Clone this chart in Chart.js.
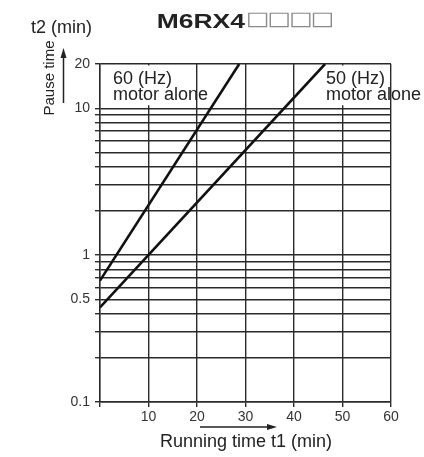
<!DOCTYPE html>
<html>
<head>
<meta charset="utf-8">
<script src="https://cdn.jsdelivr.net/npm/chart.js@4.4.1/dist/chart.umd.min.js"></script>
<style>
  html, body { margin: 0; padding: 0; background: #fff; }
  #wrap { width: 424px; height: 457px; }
</style>
</head>
<body>
<div id="wrap"><canvas id="pauseChart" width="424" height="457"></canvas></div>
<script>
// running time t1 (min) vs pause time t2 (min)
const runTime60 = [0, 28.7];
const pause60 = [0.67, 20];
const runTime50 = [0, 46.4];
const pause50 = [0.44, 20];

const xTickValues = [0, 10, 20, 30, 40, 50, 60];
const yGridValues = [0.1, 0.2, 0.3, 0.4, 0.5, 0.6, 0.7, 0.8, 0.9, 1, 2, 3, 4, 5, 6, 7, 8, 9, 10, 20];
const yLabelled = [0.1, 0.5, 1, 10, 20];
const gapColumns = [10, 50]; // grid columns left blank behind the curve labels

const FONT = '"Liberation Sans", Arial, sans-serif';
const INK = '#222';
const GRID = '#2a2a2a';

function toPoints(xs, ys) {
    return xs.map((x, i) => ({ x: x, y: ys[i] }));
}

function fitText(ctx, text, font, color, left, top, width, height) {
    ctx.save();
    ctx.font = font;
    ctx.fillStyle = color;
    ctx.textAlign = 'left';
    ctx.textBaseline = 'alphabetic';
    const m = ctx.measureText(text);
    const w = m.actualBoundingBoxLeft + m.actualBoundingBoxRight;
    const h = m.actualBoundingBoxAscent + m.actualBoundingBoxDescent;
    ctx.translate(left, top);
    ctx.scale(width / w, height / h);
    ctx.fillText(text, m.actualBoundingBoxLeft, m.actualBoundingBoxAscent);
    ctx.restore();
}

function arrow(ctx, x1, y1, x2, y2) {
    const a = Math.atan2(y2 - y1, x2 - x1);
    ctx.save();
    ctx.strokeStyle = INK;
    ctx.fillStyle = INK;
    ctx.lineWidth = 1.5;
    ctx.beginPath();
    ctx.moveTo(x1, y1);
    ctx.lineTo(x2 - 6 * Math.cos(a), y2 - 6 * Math.sin(a));
    ctx.stroke();
    ctx.translate(x2, y2);
    ctx.rotate(a);
    ctx.beginPath();
    ctx.moveTo(0, 0);
    ctx.lineTo(-10, -3);
    ctx.lineTo(-10, 3);
    ctx.closePath();
    ctx.fill();
    ctx.restore();
}

const gapPlugin = {
    id: 'gapPlugin',
    beforeDatasetsDraw(chart) {
        const { ctx, scales: { x, y } } = chart;
        const top = y.getPixelForValue(20) + 1.5;
        const bottom = y.getPixelForValue(10) - 3;
        ctx.save();
        ctx.fillStyle = '#fff';
        gapColumns.forEach(v => {
            const px = x.getPixelForValue(v);
            ctx.fillRect(px - 2, top, 4, bottom - top);
        });
        ctx.restore();
    }
};

const textPlugin = {
    id: 'textPlugin',
    afterDraw(chart) {
        const ctx = chart.ctx;
        const area = chart.chartArea;

        // title: model number with four blank placeholder boxes
        fitText(ctx, 'M6RX4', 'bold 20px ' + FONT, INK, 158, 13.5, 88, 14);
        for (let i = 0; i < 4; i++) {
            fitText(ctx, '\u25A1', '20px "DejaVu Sans"', '#8a8a8a', 247 + i * 21.6, 12, 21, 15.5);
        }

        ctx.save();
        ctx.fillStyle = INK;
        ctx.textAlign = 'left';
        ctx.textBaseline = 'alphabetic';

        // y axis title
        ctx.font = '18px ' + FONT;
        ctx.fillText('t2 (min)', 31, 33);

        ctx.save();
        ctx.font = '15px ' + FONT;
        ctx.textAlign = 'center';
        ctx.translate(53.5, 78);
        ctx.rotate(-Math.PI / 2);
        ctx.fillText('Pause time', 0, 0);
        ctx.restore();

        // x axis title
        ctx.font = '18px ' + FONT;
        ctx.fillText('Running time t1 (min)', 160, 447);

        // curve labels
        ctx.fillText('60 (Hz)', area.left + 13, 84);
        ctx.fillText('motor alone', area.left + 13, 100);
        ctx.fillText('50 (Hz)', 326, 84);
        ctx.fillText('motor alone', 326, 100);
        ctx.restore();

        arrow(ctx, 63.5, 103, 63.5, 48);
        arrow(ctx, 200, 427, 277, 427);
    }
};

const ctx = document.getElementById('pauseChart').getContext('2d');
new Chart(ctx, {
    type: 'line',
    data: {
        datasets: [
            {
                label: '60 (Hz) motor alone',
                data: toPoints(runTime60, pause60),
                borderColor: '#111',
                borderWidth: 2.6,
                pointRadius: 0,
                tension: 0,
                fill: false
            },
            {
                label: '50 (Hz) motor alone',
                data: toPoints(runTime50, pause50),
                borderColor: '#111',
                borderWidth: 2.6,
                pointRadius: 0,
                tension: 0,
                fill: false
            }
        ]
    },
    options: {
        responsive: false,
        animation: false,
        layout: { padding: { left: 0, right: 33, top: 64, bottom: 0 } },
        plugins: {
            legend: { display: false },
            tooltip: { enabled: false }
        },
        scales: {
            x: {
                type: 'linear',
                min: 0,
                max: 60,
                afterBuildTicks: scale => { scale.ticks = xTickValues.map(v => ({ value: v })); },
                afterFit: scale => { scale.height = 55; },
                ticks: {
                    autoSkip: false,
                    maxRotation: 0,
                    padding: 2,
                    color: '#333',
                    font: { family: FONT, size: 14 },
                    callback: value => (value === 0 ? '' : String(value))
                },
                grid: { color: GRID, lineWidth: 1.4, tickLength: 5, tickColor: GRID },
                border: { color: GRID, width: 1.4 }
            },
            y: {
                type: 'logarithmic',
                min: 0.1,
                max: 20,
                afterBuildTicks: scale => { scale.ticks = yGridValues.map(v => ({ value: v })); },
                afterFit: scale => { scale.width = 100; },
                ticks: {
                    autoSkip: false,
                    padding: 5,
                    color: '#333',
                    font: { family: FONT, size: 14 },
                    callback: value => (yLabelled.includes(value) ? String(value) : '')
                },
                grid: { color: GRID, lineWidth: 1.4, tickLength: 5, tickColor: GRID },
                border: { color: GRID, width: 1.4 }
            }
        }
    },
    plugins: [gapPlugin, textPlugin]
});
</script>
</body>
</html>
